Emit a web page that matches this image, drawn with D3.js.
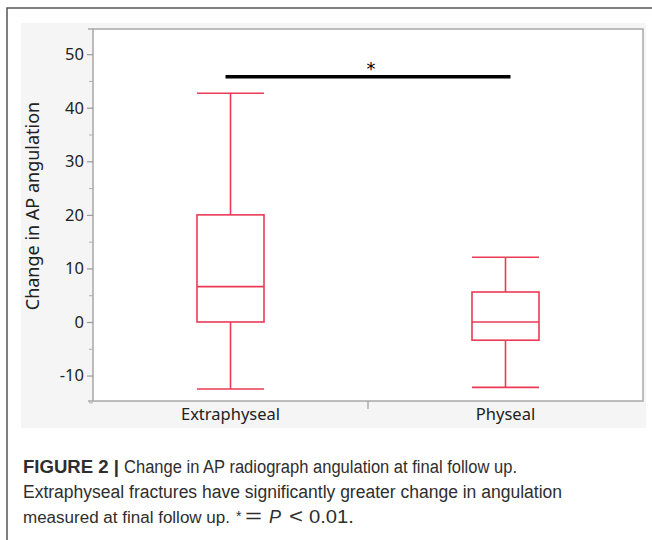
<!DOCTYPE html>
<html><head><meta charset="utf-8">
<script src="https://cdn.jsdelivr.net/npm/d3@7"></script>
<style>body{margin:0;background:#fff}svg{display:block}</style>
</head><body>
<script>
const categories = ["Extraphyseal", "Physeal"];
const whiskerLow  = [-12.5, -12.2];
const q1          = [0, -3.4];
const medians     = [6.6, 0];
const q3          = [20, 5.6];
const whiskerHigh = [42.7, 12.1];
const yTicks = [-10, 0, 10, 20, 30, 40, 50];
const yMinorTicks = [-15, -5, 5, 15, 25, 35, 45];
const sigLevel = 45.8;
const sigLabel = "*";
const yTitle = "Change in AP angulation";
const captionBold = "FIGURE 2 |";

const W = 652, H = 540;
const svg = d3.select("body").append("svg").attr("width", W).attr("height", H);

// outer frame
svg.append("rect").attr("x", 7).attr("y", 8).attr("width", 660).attr("height", 560)
  .attr("fill", "none").attr("stroke", "#555").attr("stroke-width", 1.5);
// gray panel
svg.append("rect").attr("x", 21).attr("y", 23).attr("width", 625).attr("height", 405).attr("fill", "#f5f5f5");

const L = 93, R = 643, T = 29, B = 401;
svg.append("rect").attr("x", L).attr("y", T).attr("width", R - L).attr("height", B - T)
  .attr("fill", "#fff").attr("stroke", "#a8a8a8").attr("stroke-width", 1.5);

const y = d3.scaleLinear().domain([-14.75, 54.7]).range([B, T]);
const x = d3.scaleBand().domain(categories).range([L, R]);

const font = "'Noto Sans', 'Open Sans', sans-serif";

// y axis
const yAxis = svg.append("g").attr("transform", `translate(${L},0)`)
  .call(d3.axisLeft(y).tickValues(yTicks).tickSize(6).tickPadding(3).tickFormat(d => String(d)));
yAxis.select(".domain").remove();
yAxis.selectAll(".tick line").attr("stroke", "#9a9a9a").attr("stroke-width", 1.2);
yAxis.selectAll(".tick text").attr("font-family", font).attr("font-size", 16.5).attr("fill", "#222");
const yMinor = svg.append("g").attr("transform", `translate(${L},0)`)
  .call(d3.axisLeft(y).tickValues(yMinorTicks).tickSize(4).tickFormat(""));
yMinor.select(".domain").remove();
yMinor.selectAll(".tick line").attr("stroke", "#b0b0b0").attr("stroke-width", 1);
svg.append("line").attr("x1", L - 5).attr("x2", L).attr("y1", T).attr("y2", T).attr("stroke", "#a8a8a8").attr("stroke-width", 1.5);

// x axis
const xAxis = svg.append("g").attr("transform", `translate(0,${B})`)
  .call(d3.axisBottom(x).tickSize(0).tickPadding(7));
xAxis.select(".domain").remove();
xAxis.selectAll(".tick text").attr("font-family", font).attr("font-size", 16.5).attr("fill", "#222");
svg.append("line").attr("x1", L - 5).attr("x2", L).attr("y1", B).attr("y2", B).attr("stroke", "#a8a8a8").attr("stroke-width", 1.5);
const sepX = x(categories[1]);
svg.append("line").attr("x1", sepX).attr("x2", sepX).attr("y1", B).attr("y2", B + 8)
  .attr("stroke", "#9a9a9a").attr("stroke-width", 1.2);

// y title
svg.append("text").attr("transform", `translate(39,206) rotate(-90)`)
  .attr("text-anchor", "middle").attr("font-family", font).attr("font-size", 18).attr("fill", "#222")
  .text(yTitle);

// boxes
const red = "#eb3a55";
const bw = 67;
const g = svg.append("g").attr("stroke", red).attr("stroke-width", 1.6).attr("fill", "none");
categories.forEach((c, i) => {
  const cx = x(c) + x.bandwidth() / 2;
  g.append("line").attr("x1", cx).attr("x2", cx).attr("y1", y(whiskerHigh[i])).attr("y2", y(q3[i]));
  g.append("line").attr("x1", cx).attr("x2", cx).attr("y1", y(q1[i])).attr("y2", y(whiskerLow[i]));
  g.append("line").attr("x1", cx - bw / 2).attr("x2", cx + bw / 2).attr("y1", y(whiskerHigh[i])).attr("y2", y(whiskerHigh[i]));
  g.append("line").attr("x1", cx - bw / 2).attr("x2", cx + bw / 2).attr("y1", y(whiskerLow[i])).attr("y2", y(whiskerLow[i]));
  g.append("rect").attr("x", cx - bw / 2).attr("y", y(q3[i])).attr("width", bw).attr("height", y(q1[i]) - y(q3[i]));
  g.append("line").attr("x1", cx - bw / 2).attr("x2", cx + bw / 2).attr("y1", y(medians[i])).attr("y2", y(medians[i]));
});

// significance bar
const c0 = x(categories[0]) + x.bandwidth() / 2, c1 = x(categories[1]) + x.bandwidth() / 2;
svg.append("line").attr("x1", c0 - 5).attr("x2", c1 + 5).attr("y1", y(sigLevel)).attr("y2", y(sigLevel))
  .attr("stroke", "#000").attr("stroke-width", 3.5);
svg.append("text").attr("x", (c0 + c1) / 2 + 3).attr("y", y(sigLevel) - 2).attr("text-anchor", "middle")
  .attr("font-family", "'DejaVu Sans', sans-serif").attr("font-size", 18).attr("fill", "#000").text(sigLabel);

// caption
const capFont = "'Liberation Sans', Arial, sans-serif";
const cap = svg.append("g").attr("font-family", capFont).attr("font-size", 18).attr("fill", "#2e2e2e");
const t1 = cap.append("text").attr("x", 23).attr("y", 473);
t1.append("tspan").attr("font-weight", "bold").attr("textLength", 96).attr("lengthAdjust", "spacingAndGlyphs").text(captionBold);
t1.append("tspan").attr("x", 124).attr("textLength", 393).attr("lengthAdjust", "spacingAndGlyphs")
  .text("Change in AP radiograph angulation at final follow up.");
cap.append("text").attr("x", 23).attr("y", 498).attr("textLength", 539).attr("lengthAdjust", "spacingAndGlyphs")
  .text("Extraphyseal fractures have significantly greater change in angulation");
const t3 = cap.append("text").attr("x", 23).attr("y", 523);
t3.append("tspan").attr("font-size", 16).attr("textLength", 207).attr("lengthAdjust", "spacingAndGlyphs").text("measured at final follow up.");
t3.append("tspan").attr("x", 236).attr("y", 521).attr("font-size", 14).text("*");
t3.append("tspan").attr("x", 245).attr("y", 523).attr("font-size", 20).attr("textLength", 17).attr("lengthAdjust", "spacingAndGlyphs").text("=");
t3.append("tspan").attr("x", 269).attr("font-style", "italic").text("P");
t3.append("tspan").attr("x", 289).attr("font-size", 20).attr("textLength", 14).attr("lengthAdjust", "spacingAndGlyphs").text("<");
t3.append("tspan").attr("x", 309).attr("textLength", 45).attr("lengthAdjust", "spacingAndGlyphs").text("0.01.");
</script>
</body></html>
